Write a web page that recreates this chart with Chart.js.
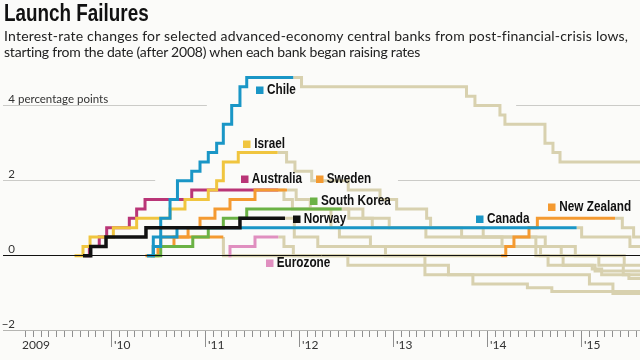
<!DOCTYPE html>
<html lang="en">
<head>
<meta charset="UTF-8">
<title>Launch Failures</title>
<script src="https://cdn.jsdelivr.net/npm/chart.js@4.4.1/dist/chart.umd.min.js"></script>
<style>
  html, body { margin: 0; padding: 0; background: #fbfbf9; }
  #wrap { position: relative; width: 640px; height: 360px; overflow: hidden; }
  #title { position: absolute; left: 4px; top: 2px; font: bold 23px/23px 'Liberation Sans', Arial, sans-serif; color: #111; transform: scaleX(0.82); transform-origin: left top; white-space: nowrap; }
  #sub { position: absolute; left: 4px; top: 28px; font: 14px/16px Lato, sans-serif; color: #222; white-space: nowrap; }
  canvas { position: absolute; left: 0; top: 0; }
</style>
</head>
<body>
<div id="wrap">
  <canvas id="chart" width="640" height="360"></canvas>
  <div id="title">Launch Failures</div>
  <div id="sub"><span id="sub1">Interest-rate changes for selected advanced-economy central banks from post-financial-crisis lows,</span><br><span id="sub2">starting from the date (after 2008) when each bank began raising rates</span></div>
</div>
<script>
// step data: X = dates (decimal years) where each level starts, last entry = end date
// Y = change in policy rate from the low, percentage points
const chileHikeX = [2010.383, 2010.450, 2010.529, 2010.628, 2010.707, 2010.859, 2010.947, 2011.035, 2011.124, 2011.195, 2011.284, 2011.372, 2011.444, 2011.939];
const chileHikeY = [0, 0.5, 1.0, 1.5, 2.0, 2.25, 2.5, 2.75, 3.0, 3.5, 4.0, 4.5, 4.75];
const chileTailX = [2011.939, 2012.027, 2013.782, 2013.872, 2014.138, 2014.191, 2014.617, 2014.702, 2014.777, 2015.628];
const chileTailY = [4.75, 4.5, 4.25, 4.0, 3.75, 3.5, 3.0, 2.75, 2.5];

const canadaHikeX = [2010.383, 2010.450, 2010.529, 2010.702, 2014.954];
const canadaHikeY = [0, 0.25, 0.5, 0.75];
const canadaTailX = [2014.954, 2015.007, 2015.521, 2015.628];
const canadaTailY = [0.75, 0.5, 0.25];

const israelHikeX = [2009.612, 2009.702, 2009.777, 2010.025, 2010.273, 2010.628, 2010.787, 2011.035, 2011.124, 2011.195, 2011.354, 2011.773];
const israelHikeY = [0, 0.25, 0.5, 0.75, 1.0, 1.25, 1.5, 1.75, 2.0, 2.5, 2.75];
const israelTailX = [2011.773, 2011.868, 2011.957, 2012.135, 2012.524, 2012.862, 2013.039, 2013.358, 2013.40, 2013.73, 2014.16, 2014.57, 2014.65, 2015.15, 2015.628];
const israelTailY = [2.75, 2.5, 2.25, 2.0, 1.75, 1.5, 1.25, 1.0, 0.75, 0.5, 0.25, 0, -0.25, -0.4];

const australiaHikeX = [2009.720, 2009.770, 2009.875, 2009.954, 2010.195, 2010.273, 2010.362, 2010.859, 2011.780];
const australiaHikeY = [0, 0.25, 0.5, 0.75, 1.0, 1.25, 1.5, 1.75];
const australiaTailX = [2011.780, 2011.84, 2011.93, 2012.34, 2012.43, 2012.76, 2012.92, 2013.34, 2013.59, 2015.09, 2015.34, 2015.628];
const australiaTailY = [1.75, 1.5, 1.25, 0.75, 0.5, 0.25, 0, -0.25, -0.5, -0.75, -1.0];

const swedenHikeX = [2010.450, 2010.500, 2010.670, 2010.820, 2010.947, 2011.106, 2011.266, 2011.532, 2011.872];
const swedenHikeY = [0, 0.25, 0.5, 0.75, 1.0, 1.25, 1.5, 1.75];
const swedenTailX = [2011.872, 2011.97, 2012.12, 2012.68, 2012.96, 2013.96, 2014.52, 2014.81, 2015.12, 2015.22, 2015.51, 2015.628];
const swedenTailY = [1.75, 1.5, 1.25, 1.0, 0.75, 0.5, 0, -0.25, -0.35, -0.5, -0.6];

const koreaHikeX = [2010.420, 2010.529, 2010.870, 2011.035, 2011.195, 2011.444, 2012.454];
const koreaHikeY = [0, 0.25, 0.5, 0.75, 1.0, 1.25];
const koreaTailX = [2012.454, 2012.53, 2012.78, 2013.35, 2014.62, 2014.79, 2015.19, 2015.45, 2015.628];
const koreaTailY = [1.25, 1.0, 0.75, 0.5, 0.25, 0, -0.25, -0.5];

const norwayHikeX = [2009.702, 2009.784, 2009.947, 2010.372, 2011.372, 2011.851];
const norwayHikeY = [0, 0.25, 0.5, 0.75, 1.0];
const norwayTailX = [2011.851, 2011.95, 2012.20, 2014.94, 2015.46, 2015.628];
const norwayTailY = [1.0, 0.5, 0.25, 0, -0.25];

const euroHikeX = [2011.250, 2011.266, 2011.532, 2011.780];
const euroHikeY = [0, 0.25, 0.5];
const euroTailX = [2011.780, 2011.84, 2011.94, 2012.52, 2013.34, 2013.85, 2014.43, 2014.69, 2015.628];
const euroTailY = [0.5, 0.25, 0, -0.25, -0.5, -0.75, -0.85, -0.95];

const nzHikeX = [2010.367, 2010.450, 2010.529, 2011.195];
const nzHikeY = [0, 0.25, 0.5];
const nzPauseX = [2011.195, 2011.196, 2014.150];
const nzPauseY = [0.5, 0];
const nzHike2X = [2014.150, 2014.200, 2014.287, 2014.447, 2014.536, 2015.362];
const nzHike2Y = [0, 0.25, 0.5, 0.75, 1.0];
const nzTailX = [2015.362, 2015.44, 2015.56, 2015.628];
const nzTailY = [1.0, 0.75, 0.5];

const yearTicks = [2009, 2010, 2011, 2012, 2013, 2014, 2015];
const yearLabels = ['2009', "'10", "'11", "'12", "'13", "'14", "'15"];
const valueTicks = [4, 2, 0, -2];
const valueLabels = ['4 percentage points', '2', '0', '\u22122'];

const BEIGE = '#d8d1af';
const BLUE = '#1a96c6';
const YELLOW = '#f0c53f';
const MAGENTA = '#b93577';
const ORANGE = '#f49a31';
const GREEN = '#6bb245';
const PINK = '#e08fc0';

// fit each subtitle line to the width it has in the original
function fitLine(id, target) {
  const s = document.getElementById(id);
  const w = s.getBoundingClientRect().width;
  s.style.letterSpacing = ((target - w) / s.textContent.length).toFixed(3) + 'px';
}
fitLine('sub1', 624);
fitLine('sub2', 416);

// turn level changes into corner points
function steps(xs, ys) {
  const pts = [];
  ys.forEach((v, i) => {
    pts.push({ x: xs[i], y: v });
    pts.push({ x: xs[i + 1], y: v });
  });
  return pts;
}

function line(xs, ys, color, order, width) {
  return {
    data: steps(xs, ys),
    borderColor: color,
    borderWidth: width || 3,
    pointRadius: 0,
    fill: false,
    tension: 0,
    borderCapStyle: 'butt',
    borderJoinStyle: 'miter',
    order: order
  };
}

const datasets = [
  line(chileTailX, chileTailY, BEIGE, 5),
  line(canadaTailX, canadaTailY, BEIGE, 5),
  line(israelTailX, israelTailY, BEIGE, 5),
  line(australiaTailX, australiaTailY, BEIGE, 5),
  line(swedenTailX, swedenTailY, BEIGE, 5),
  line(koreaTailX, koreaTailY, BEIGE, 5),
  line(norwayTailX, norwayTailY, BEIGE, 5),
  line(euroTailX, euroTailY, BEIGE, 5),
  line(nzPauseX, nzPauseY, BEIGE, 5),
  line(nzTailX, nzTailY, BEIGE, 5),
  line(canadaHikeX, canadaHikeY, BLUE, 2),
  line(chileHikeX, chileHikeY, BLUE, 2),
  line(koreaHikeX, koreaHikeY, GREEN, 2),
  line(nzHikeX, nzHikeY, ORANGE, 2),
  line(nzHike2X, nzHike2Y, ORANGE, 2),
  line(swedenHikeX, swedenHikeY, ORANGE, 2),
  line(israelHikeX, israelHikeY, YELLOW, 2),
  line(australiaHikeX, australiaHikeY, MAGENTA, 2),
  line(euroHikeX, euroHikeY, PINK, 2),
  line(norwayHikeX, norwayHikeY, '#111', 1, 3.5)
];

// country labels: square left edge (year) and text baseline (value)
const countryLabels = [
  { text: 'Chile', color: BLUE, x: 2011.543, y: 4.30 },
  { text: 'Israel', color: YELLOW, x: 2011.407, y: 2.88 },
  { text: 'Australia', color: MAGENTA, x: 2011.380, y: 1.95 },
  { text: 'Sweden', color: ORANGE, x: 2012.178, y: 1.95 },
  { text: 'South Korea', color: GREEN, x: 2012.117, y: 1.35 },
  { text: 'Norway', color: '#111', x: 2011.933, y: 0.885 },
  { text: 'Canada', color: BLUE, x: 2013.883, y: 0.87 },
  { text: 'New Zealand', color: ORANGE, x: 2014.652, y: 1.19 },
  { text: 'Eurozone', color: PINK, x: 2011.646, y: -0.29 }
];

// gridline pieces, left open where the labels sit
const gridRuns = [
  { value: 4, runs: [[2008.851, 2011.02], [2014.31, 2015.628]] },
  { value: 2, runs: [[2008.851, 2010.47], [2013.053, 2015.628]] },
  { value: -2, runs: [[2008.851, 2015.628]] }
];

const decor = {
  id: 'decor',
  beforeDatasetsDraw(chart) {
    const { ctx, scales: { x, y } } = chart;
    ctx.save();
    ctx.lineWidth = 1;
    gridRuns.forEach(g => {
      const py = Math.round(y.getPixelForValue(g.value)) - 0.5;
      ctx.strokeStyle = g.value === -2 ? '#b5b5b2' : '#cbcbc8';
      g.runs.forEach(r => {
        ctx.beginPath();
        ctx.moveTo(x.getPixelForValue(r[0]), py);
        ctx.lineTo(x.getPixelForValue(r[1]), py);
        ctx.stroke();
      });
    });

    // month and year ticks under the -2 line
    const base = Math.round(y.getPixelForValue(-2));
    ctx.strokeStyle = '#8f8f8f';
    for (let yr = 2009; yr <= 2015; yr++) {
      for (let m = 0; m < 12; m++) {
        if (yr === 2009 && m === 0) continue;
        const px = Math.round(x.getPixelForValue(yr + m / 12)) + 0.5;
        if (px > 640) continue;
        ctx.beginPath();
        ctx.moveTo(px, base);
        ctx.lineTo(px, m === 0 ? base + 16 : base + 6);
        ctx.stroke();
      }
    }

    ctx.fillStyle = '#333';
    ctx.font = '12px Lato, sans-serif';
    ctx.textAlign = 'left';
    ctx.textBaseline = 'alphabetic';
    yearTicks.forEach((yr, i) => {
      const px = x.getPixelForValue(yr);
      ctx.fillText(yearLabels[i], px + (i === 0 ? 5 : 3), 349);
    });

    ctx.font = '11.5px Lato, sans-serif';
    valueTicks.forEach((v, i) => {
      const py = Math.round(y.getPixelForValue(v)) - 3;
      const lead = valueLabels[i].split(' ')[0];
      const lx = 15 - ctx.measureText(lead).width;
      ctx.fillText(valueLabels[i], lx, py);
    });
    ctx.restore();
  },
  afterDatasetsDraw(chart) {
    const { ctx, scales: { x, y } } = chart;
    ctx.save();
    const py = Math.round(y.getPixelForValue(0)) - 0.5;
    ctx.strokeStyle = '#111';
    ctx.lineWidth = 1;
    ctx.beginPath();
    ctx.moveTo(x.getPixelForValue(2008.851), py);
    ctx.lineTo(x.getPixelForValue(2015.628), py);
    ctx.stroke();

    // narrow bold labels: Liberation Sans squeezed sideways
    ctx.font = "bold 14px 'Liberation Sans', Arial, sans-serif";
    ctx.textAlign = 'left';
    ctx.textBaseline = 'alphabetic';
    countryLabels.forEach(l => {
      const lx = x.getPixelForValue(l.x);
      const ly = y.getPixelForValue(l.y);
      ctx.fillStyle = l.color;
      ctx.fillRect(Math.round(lx), Math.round(ly) - 7.5, 7.5, 7.5);
      ctx.fillStyle = '#111';
      ctx.save();
      ctx.translate(lx + 11, ly);
      ctx.scale(0.84, 1);
      ctx.fillText(l.text, 0, 0);
      ctx.restore();
    });
    ctx.restore();
  }
};

new Chart(document.getElementById('chart'), {
  type: 'line',
  data: { datasets: datasets },
  options: {
    responsive: false,
    animation: false,
    devicePixelRatio: 1,
    layout: { padding: { left: 3, right: 0, top: 68, bottom: 29 } },
    plugins: { legend: { display: false }, tooltip: { enabled: false } },
    scales: {
      x: { type: 'linear', min: 2008.851, max: 2015.628, display: false },
      y: { type: 'linear', min: -2, max: 5, display: false }
    }
  },
  plugins: [decor]
});
</script>
</body>
</html>
